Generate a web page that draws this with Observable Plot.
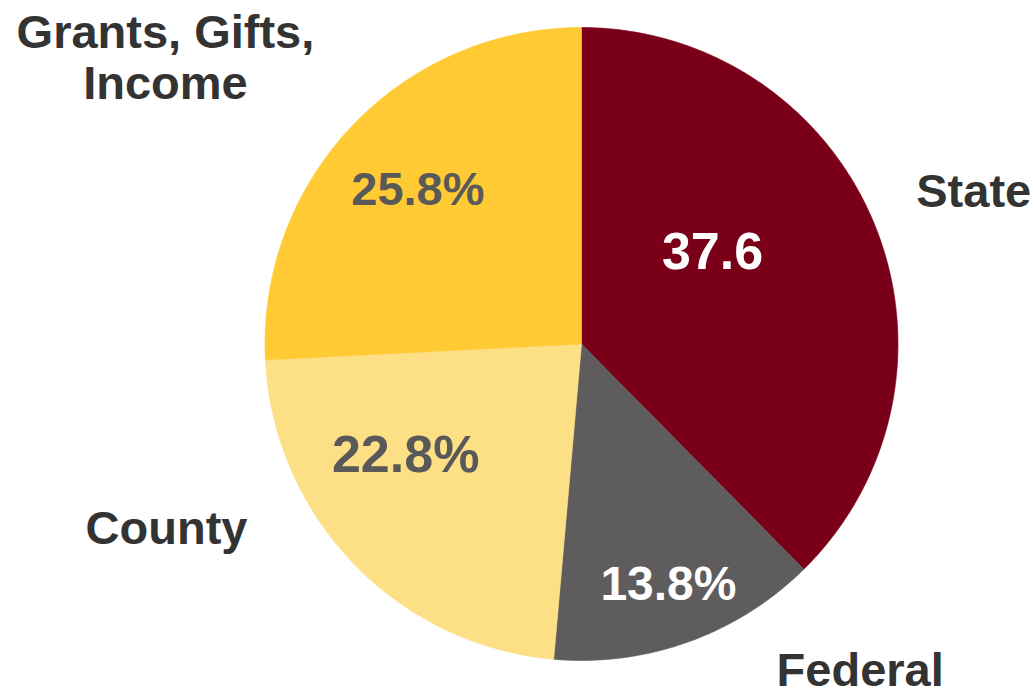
<!DOCTYPE html>
<html><head><meta charset="utf-8">
<script src="https://cdn.jsdelivr.net/npm/d3@7"></script>
<script src="https://cdn.jsdelivr.net/npm/@observablehq/plot@0.6"></script>
<style>html,body{margin:0;padding:0;background:#fff}#chart svg{display:block}</style>
</head><body><div id="chart"></div>
<script>
// ---- data ----
const categories = ["State", "Federal", "County", "Grants, Gifts,\nIncome"];
const values = [37.6, 13.8, 22.8, 25.8];
const valueLabels = ["37.6", "13.8%", "22.8%", "25.8%"];

// ---- styles / layout (kept apart from data) ----
const sliceColors = ["#7a0019", "#5e5c5d", "#fddf86", "#ffca33"];
const valueLabelColors = ["#ffffff", "#ffffff", "#595959", "#595959"];
const valueLabelSizes = [52, 48, 52, 47];
const nameLabelColor = "#333333";
const nameLabelSize = 47;
// placement: [angle in degrees clockwise from 12 o'clock, radius as fraction of pie radius]
const valueLabelPlacement = [[54.9, 0.506], [160.1, 0.807], [237.6, 0.658], [313.2, 0.709]];
const nameLabelPlacement = [[68.6, 1.331], [139.4, 1.353], [246.1, 1.434], [304.6, 1.597]];

const W = 1036, H = 692;
const cxPx = 581, cyPx = 343.5, rPx = 316.5;
const font = "'Liberation Sans', Arial, Helvetica, sans-serif";

// pie geometry in unit-radius data space (angles clockwise from top)
const arcs = d3.pie().sort(null)(values);
const slicePts = [];
arcs.forEach((a, i) => {
  const cat = categories[i];
  const n = Math.max(8, Math.ceil((a.endAngle - a.startAngle) / (Math.PI / 360)));
  slicePts.push({cat, x: 0, y: 0});
  for (let k = 0; k <= n; k++) {
    const t = a.startAngle + (a.endAngle - a.startAngle) * k / n;
    slicePts.push({cat, x: Math.sin(t), y: Math.cos(t)});
  }
  slicePts.push({cat, x: 0, y: 0});
});
const polar = ([deg, r]) => {
  const t = deg * Math.PI / 180;
  return {x: r * Math.sin(t), y: r * Math.cos(t)};
};

const marks = [
  Plot.line(slicePts, {x: "x", y: "y", z: "cat", fill: "cat", stroke: "cat", strokeWidth: 0.6, curve: "linear"})
];
categories.forEach((c, i) => {
  const v = polar(valueLabelPlacement[i]);
  marks.push(Plot.text([{...v, text: valueLabels[i]}], {
    x: "x", y: "y", text: "text", fill: valueLabelColors[i],
    fontSize: valueLabelSizes[i], fontWeight: "bold", fontFamily: font,
    textAnchor: "middle", lineAnchor: "middle"
  }));
  const p = polar(nameLabelPlacement[i]);
  marks.push(Plot.text([{...p, text: c}], {
    x: "x", y: "y", text: "text", fill: nameLabelColor,
    fontSize: nameLabelSize, fontWeight: "bold", fontFamily: font,
    textAnchor: "middle", lineAnchor: "middle", lineHeight: 1.1
  }));
});

const chart = Plot.plot({
  width: W, height: H, margin: 0,
  x: {domain: [-cxPx / rPx, (W - cxPx) / rPx], axis: null},
  y: {domain: [-(H - cyPx) / rPx, cyPx / rPx], axis: null},
  color: {domain: categories, range: sliceColors},
  style: {background: "#fff", overflow: "visible"},
  marks
});
document.getElementById("chart").appendChild(chart);
</script>
</body></html>
